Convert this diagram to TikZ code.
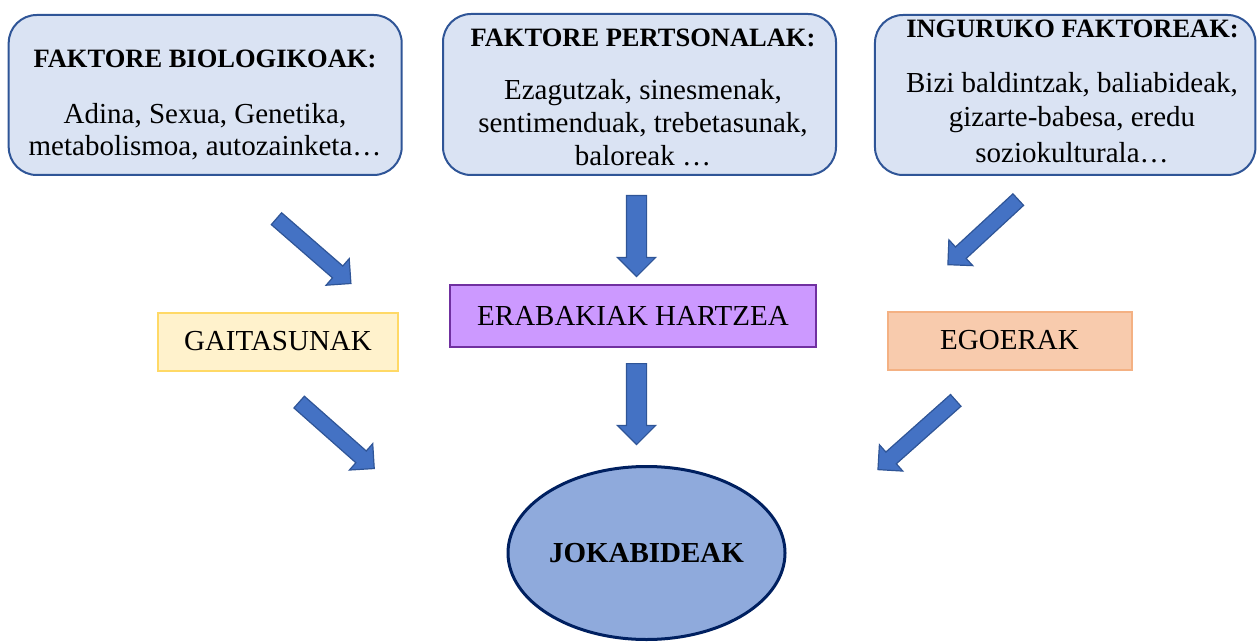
\documentclass[tikz,border=0pt]{standalone}
\usepackage{fontspec}
\setmainfont{Liberation Serif}
\usetikzlibrary{shapes.geometric,shapes.arrows,calc}
\definecolor{boxfill}{HTML}{DAE3F3}
\definecolor{boxline}{HTML}{2F5597}
\definecolor{arrfill}{HTML}{4472C4}
\definecolor{arrline}{HTML}{2F5597}
\definecolor{yelfill}{HTML}{FFF2CC}
\definecolor{yelline}{HTML}{FFD966}
\definecolor{purfill}{HTML}{CC99FF}
\definecolor{purline}{HTML}{7030A0}
\definecolor{orfill}{HTML}{F8CBAD}
\definecolor{orline}{HTML}{F4B183}
\definecolor{elfill}{HTML}{8FAADC}
\definecolor{elline}{HTML}{002060}
% #1 name, #2 tail, #3 tip, #4 half shaft width, #5 head extend
\newcommand\blockarrow[5]{%
  \path let \p1=($(#3)-(#2)$), \n1={atan2(\y1,\x1)}, \n2={veclen(\x1,\y1)} in
    node[blk, rotate=\n1, anchor=tail, minimum height=\n2, inner ysep=#4,
         single arrow head extend=#5] (#1) at (#2) {};%
}
\begin{document}
\begin{tikzpicture}[x=1pt,y=-1pt,
  rbox/.style={draw=boxline, fill=boxfill, line width=2pt, rounded corners=28pt, inner sep=0pt},
  ttl/.style={anchor=base, font=\bfseries\fontsize{26.5}{30}\selectfont, inner sep=0pt},
  txt/.style={anchor=base, font=\fontsize{29}{34}\selectfont, inner sep=0pt},
  midbox/.style={rectangle, line width=2pt, inner sep=0pt, font=\fontsize{29}{34}\selectfont},
  blk/.style={single arrow, fill=arrfill, draw=arrline, line width=1.2pt, inner xsep=0pt,
              single arrow tip angle=90, single arrow head indent=0pt}]
\useasboundingbox (0,0) rectangle (1257,644);

% top boxes
\node[rbox, minimum width=393, minimum height=160] (bio) at (205.2,95) {};
\node[rbox, minimum width=393, minimum height=161] (pers) at (639.5,94.5) {};
\node[rbox, minimum width=380.5, minimum height=160] (ing) at (1065.2,95) {};

\node[ttl] (bioT) at (205,68) {FAKTORE BIOLOGIKOAK:};
\node[txt] (bio1) at (205,124) {Adina, Sexua, Genetika,};
\node[txt] (bio2) at (205,156) {metabolismoa, autozainketa…};

\node[ttl] (persT) at (643,46.5) {FAKTORE PERTSONALAK:};
\node[txt] (pers1) at (643,100) {Ezagutzak, sinesmenak,};
\node[txt] (pers2) at (643,133) {sentimenduak, trebetasunak,};
\node[txt] (pers3) at (643,166) {baloreak …};

\node[ttl] (ingT) at (1072.5,38) {INGURUKO FAKTOREAK:};
\node[txt] (ing1) at (1072,92.5) {Bizi baldintzak, baliabideak,};
\node[txt] (ing2) at (1072,127) {gizarte-babesa, eredu};
\node[txt] (ing3) at (1072,162.5) {soziokulturala…};

% middle boxes
\node[midbox, draw=yelline, fill=yelfill, minimum width=240, minimum height=58] (gai) at (278,341.5) {GAITASUNAK};
\node[midbox, draw=purline, fill=purfill, minimum width=366, minimum height=62] (era) at (633,316) {ERABAKIAK HARTZEA};
\node[midbox, draw=orline, fill=orfill, minimum width=244, minimum height=58] (ego) at (1009.5,340.5) {EGOERAK};

% ellipse
\node[ellipse, draw=elline, fill=elfill, line width=3pt, minimum width=277, minimum height=173,
      font=\bfseries\fontsize{29}{34}\selectfont, inner sep=0pt] (jok) at (646.5,553) {JOKABIDEAK};

% block arrows
\coordinate (a1s) at (276,218.3);   \coordinate (a1e) at (350.7,283.3);
\coordinate (a2s) at (636.5,195);   \coordinate (a2e) at (636.5,276);
\coordinate (a3s) at (1018.7,199.2);\coordinate (a3e) at (948.3,264.3);
\coordinate (a4s) at (298.7,401.7); \coordinate (a4e) at (374,468.3);
\coordinate (a5s) at (636.5,363);   \coordinate (a5e) at (636.5,444);
\coordinate (a6s) at (956.2,400);   \coordinate (a6e) at (878.3,469.3);

\blockarrow{ar1}{a1s}{a1e}{7.25pt}{9.75pt}
\blockarrow{ar2}{a2s}{a2e}{9.5pt}{9pt}
\blockarrow{ar3}{a3s}{a3e}{7.25pt}{9.75pt}
\blockarrow{ar4}{a4s}{a4e}{7.25pt}{9.75pt}
\blockarrow{ar5}{a5s}{a5e}{9.5pt}{9pt}
\blockarrow{ar6}{a6s}{a6e}{7.25pt}{9.75pt}
\end{tikzpicture}
\end{document}
